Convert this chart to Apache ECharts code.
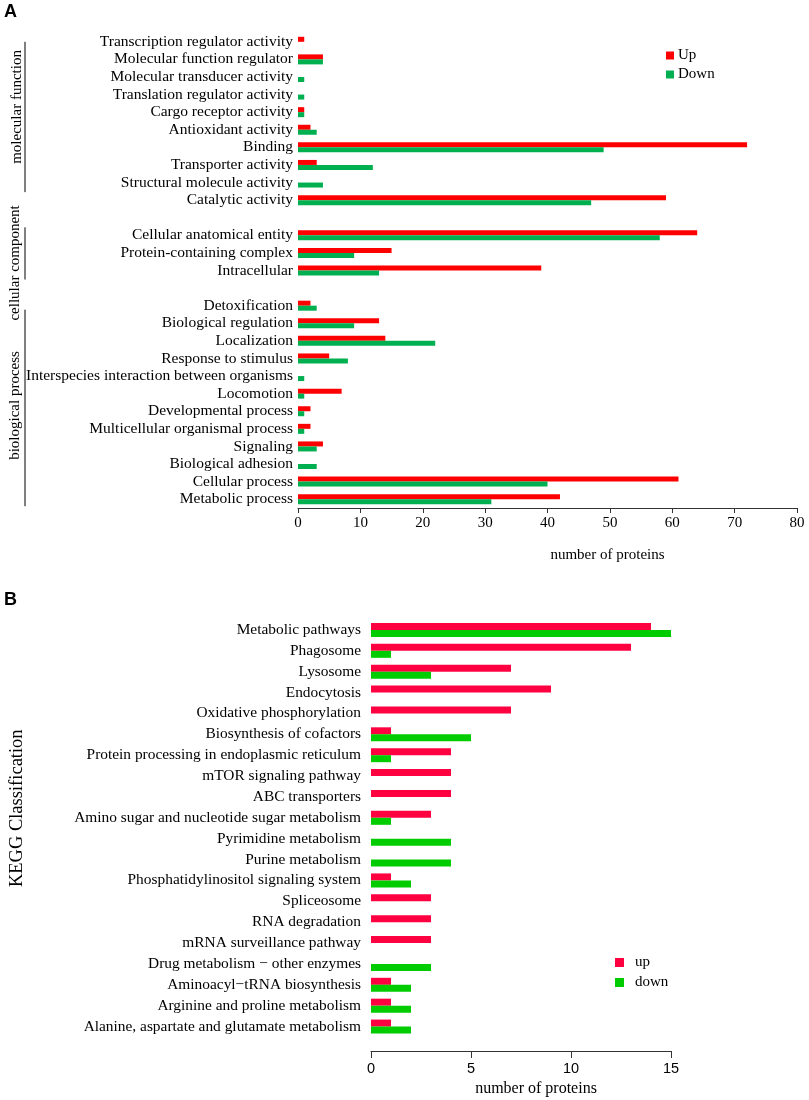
<!DOCTYPE html>
<html>
<head>
<meta charset="utf-8">
<script src="https://cdn.jsdelivr.net/npm/echarts@6/dist/echarts.min.js"></script>
<style>html,body{margin:0;padding:0;background:#fff}#c{width:809px;height:1100px}</style>
</head>
<body>
<div id="c"></div>
<script>
// ---------- Panel A data (GO) ----------
const mfCats = ['Transcription regulator activity','Molecular function regulator','Molecular transducer activity','Translation regulator activity','Cargo receptor activity','Antioxidant activity','Binding','Transporter activity','Structural molecule activity','Catalytic activity'];
const mfUp   = [1,4,0,0,1,2,72,3,0,59];
const mfDown = [0,4,1,1,1,3,49,12,4,47];
const ccCats = ['Cellular anatomical entity','Protein-containing complex','Intracellular'];
const ccUp   = [64,15,39];
const ccDown = [58,9,13];
const bpCats = ['Detoxification','Biological regulation','Localization','Response to stimulus','Interspecies interaction between organisms','Locomotion','Developmental process','Multicellular organismal process','Signaling','Biological adhesion','Cellular process','Metabolic process'];
const bpUp   = [2,13,14,5,0,7,2,2,4,0,61,42];
const bpDown = [3,9,22,8,1,1,1,1,3,3,40,31];
const groupNames = ['molecular function','cellular component','biological process'];
const xTicksA = [0,80,10];

// ---------- Panel B data (KEGG) ----------
const keggCats = ['Metabolic pathways','Phagosome','Lysosome','Endocytosis','Oxidative phosphorylation','Biosynthesis of cofactors','Protein processing in endoplasmic reticulum','mTOR signaling pathway','ABC transporters','Amino sugar and nucleotide sugar metabolism','Pyrimidine metabolism','Purine metabolism','Phosphatidylinositol signaling system','Spliceosome','RNA degradation','mRNA surveillance pathway','Drug metabolism \u2212 other enzymes','Aminoacyl\u2212tRNA biosynthesis','Arginine and proline metabolism','Alanine, aspartate and glutamate metabolism'];
const keggUp   = [14,13,7,9,7,1,4,4,4,3,0,0,1,3,3,3,0,1,1,1];
const keggDown = [15,1,3,0,0,5,1,0,0,1,4,4,2,0,0,0,3,2,2,2];
const xTicksB = [0,15,5];

// build GO axis with blank separator rows
const catsA = [...mfCats, ' ', ...ccCats, '  ', ...bpCats];
const upA   = [...mfUp, null, ...ccUp, null, ...bpUp];
const downA = [...mfDown, null, ...ccDown, null, ...bpDown];

const serif = 'Liberation Serif';
const chart = echarts.init(document.getElementById('c'), null, {renderer:'canvas'});

const option = {
  animation: false,
  backgroundColor: '#fff',
  grid: [
    {left: 298, top: 33, width: 499, height: 475},
    {left: 371, top: 619.5, width: 300, height: 417.5}
  ],
  legend: [
    {data: ['Up','Down'], left: 661, top: 43, orient: 'vertical', icon: 'rect', itemWidth: 8, itemHeight: 8, itemGap: 4,
     textStyle: {fontFamily: serif, fontSize: 15, color: '#000', padding: [0,0,0,-1]}},
    {data: ['up','down'], left: 610, top: 950, orient: 'vertical', icon: 'rect', itemWidth: 9, itemHeight: 9, itemGap: 5,
     textStyle: {fontFamily: serif, fontSize: 15, color: '#000', padding: [0,0,0,6]}}
  ],
  xAxis: [
    {gridIndex: 0, type: 'value', min: xTicksA[0], max: xTicksA[1], interval: xTicksA[2],
     axisLine: {show: true, lineStyle: {color: '#333'}}, axisTick: {show: true, length: 5, lineStyle: {color: '#333'}},
     splitLine: {show: false},
     axisLabel: {fontFamily: serif, fontSize: 15, color: '#000', margin: 8},
     name: 'number of proteins', nameLocation: 'middle', nameGap: 40,
     nameTextStyle: {fontFamily: serif, fontSize: 15, color: '#000', padding: [0,0,0,120]}},
    {gridIndex: 1, type: 'value', min: xTicksB[0], max: xTicksB[1], interval: xTicksB[2], offset: 14,
     axisLine: {show: true, lineStyle: {color: '#333'}}, axisTick: {show: true, length: 7, lineStyle: {color: '#333'}},
     splitLine: {show: false},
     axisLabel: {fontFamily: 'Liberation Sans', fontSize: 14.5, color: '#000', margin: 10},
     name: 'number of proteins', nameLocation: 'middle', nameGap: 30,
     nameTextStyle: {fontFamily: serif, fontSize: 16, color: '#000', padding: [0,0,0,30]}}
  ],
  yAxis: [
    {gridIndex: 0, type: 'category', data: catsA, inverse: true,
     axisLine: {show: false}, axisTick: {show: false},
     axisLabel: {fontFamily: serif, fontSize: 15.5, color: '#000', margin: 5, interval: 0}},
    {gridIndex: 1, type: 'category', data: keggCats, inverse: true,
     axisLine: {show: false}, axisTick: {show: false},
     axisLabel: {fontFamily: serif, fontSize: 15.4, color: '#000', margin: 10, interval: 0},
     name: 'KEGG Classification', nameLocation: 'middle', nameGap: 344, nameRotate: 90,
     nameTextStyle: {fontFamily: serif, fontSize: 18.5, color: '#000', padding: [0,0,0,40]}}
  ],
  series: [
    {name: 'Up', type: 'bar', xAxisIndex: 0, yAxisIndex: 0, data: upA, barWidth: 5, barGap: '0%', itemStyle: {color: '#FF0000'}},
    {name: 'Down', type: 'bar', xAxisIndex: 0, yAxisIndex: 0, data: downA, barWidth: 5, barGap: '0%', itemStyle: {color: '#00B050'}},
    {name: 'up', type: 'bar', xAxisIndex: 1, yAxisIndex: 1, data: keggUp, barWidth: 7, barGap: '0%', itemStyle: {color: '#FF0040'}},
    {name: 'down', type: 'bar', xAxisIndex: 1, yAxisIndex: 1, data: keggDown, barWidth: 7, barGap: '0%', itemStyle: {color: '#00CC00'}}
  ]
};
chart.setOption(option);

// group brackets for panel A, positioned from the category scale
function yOf(name){ return chart.convertToPixel({yAxisIndex: 0}, name); }
const groups = [
  {cats: mfCats, a: 0, b: -8, tx: 17, toff: -14},
  {cats: ccCats, a: -8, b: 9, tx: 15, toff: 10},
  {cats: bpCats, a: 4, b: 7, tx: 15, toff: 3}
];
const graphics = [
  {type: 'text', left: 4, top: 3, style: {text: 'A', font: 'bold 18px "Liberation Sans"', fill: '#000'}},
  {type: 'text', left: 4, top: 591, style: {text: 'B', font: 'bold 18px "Liberation Sans"', fill: '#000'}}
];
groups.forEach((g, i) => {
  const y0 = yOf(g.cats[0]), y1 = yOf(g.cats[g.cats.length - 1]);
  graphics.push({type: 'line', shape: {x1: 25, y1: y0 + g.a, x2: 25, y2: y1 + g.b}, style: {stroke: '#000', lineWidth: 1}});
  graphics.push({type: 'text', x: g.tx, y: (y0 + y1) / 2 + g.toff, rotation: Math.PI / 2,
    style: {text: groupNames[i], font: '15px "Liberation Serif"', fill: '#000', align: 'center', verticalAlign: 'middle'}});
});
chart.setOption({graphic: graphics});
</script>
</body>
</html>
